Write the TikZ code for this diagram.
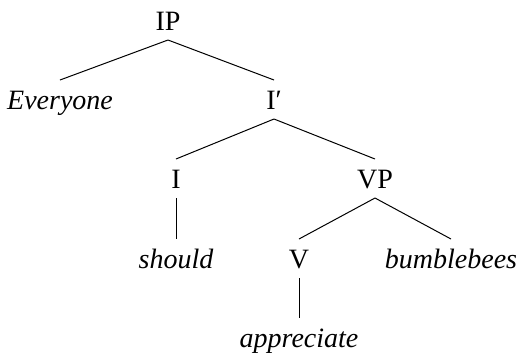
\documentclass[tikz,border=0pt]{standalone}
\usepackage{fontspec}
\setmainfont{Liberation Serif}
\begin{document}
\begin{tikzpicture}[x=0.5pt,y=-0.5pt,
  lbl/.style={anchor=base,inner sep=0pt,outer sep=0pt,
    text height=14.5pt,text depth=5pt,font=\fontsize{14}{16}\selectfont},
  word/.style={lbl,font=\fontsize{14}{16}\selectfont\itshape},
  branch/.style={line width=0.5pt}]
\useasboundingbox (0,0) rectangle (520,355);
% categories and words, placed on their baselines
\node[lbl]  (ip)   at (168,30)  {IP};
\node[word] (every) at (60,109) {Everyone};
\node[lbl]  (ibar) at (274,109) {I′};
\node[lbl]  (i)    at (176,188) {I};
\node[lbl]  (vp)   at (375,188) {VP};
\node[word] (should) at (176,268) {should};
\node[lbl]  (v)    at (299,268) {V};
\node[word] (bees) at (451,268) {bumblebees};
\node[word] (appr) at (299,347) {appreciate};
% branches
\draw[branch] (ip.south) -- (every.north);
\draw[branch] (ip.south) -- (ibar.north);
\draw[branch] (ibar.south) -- (i.north);
\draw[branch] (ibar.south) -- (vp.north);
\draw[branch] (i.south) -- (should.north);
\draw[branch] (vp.south) -- (v.north);
\draw[branch] (vp.south) -- (bees.north);
\draw[branch] (v.south) -- (appr.north);
\end{tikzpicture}
\end{document}
